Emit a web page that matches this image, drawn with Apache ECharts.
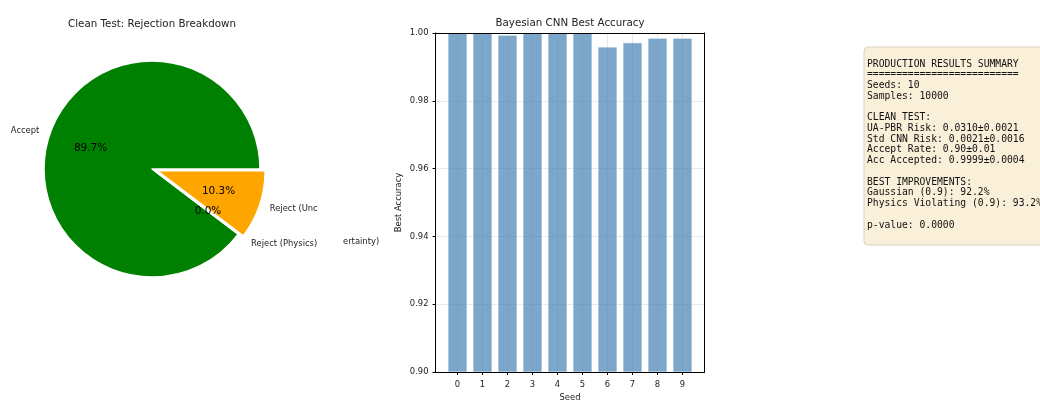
<!DOCTYPE html>
<html><head><meta charset="utf-8">
<script src="https://cdn.jsdelivr.net/npm/echarts@6/dist/echarts.min.js"></script>
<style>html,body{margin:0;padding:0;background:#fff}#c{width:1040px;height:403px}</style>
</head><body><div id="c"></div>
<script>
// ---- data ----
const pieLabels = ['Accept', 'Reject (Physics)', 'Reject (Uncertainty)'];
const pieValues = [89.7, 0.0, 10.3];
const pieColors = ['#008000', '#FF0000', '#FFA500'];
const pieExplode = [0, 0.05, 0.05];
const seeds = [0, 1, 2, 3, 4, 5, 6, 7, 8, 9];
const bestAccuracy = [1.0, 1.0, 0.9995, 1.0, 1.0, 1.0, 0.996, 0.99725, 0.9986, 0.9986];
const yTicks = [0.90, 0.92, 0.94, 0.96, 0.98, 1.00];
const summaryLines = [
  'PRODUCTION RESULTS SUMMARY',
  '==========================',
  'Seeds: 10',
  'Samples: 10000',
  '',
  'CLEAN TEST:',
  'UA-PBR Risk: 0.0310\u00b10.0021',
  'Std CNN Risk: 0.0021\u00b10.0016',
  'Accept Rate: 0.90\u00b10.01',
  'Acc Accepted: 0.9999\u00b10.0004',
  '',
  'BEST IMPROVEMENTS:',
  'Gaussian (0.9): 92.2%',
  'Physics Violating (0.9): 93.2%',
  '',
  'p-value: 0.0000'
];

// ---- layout ----
const FONT = 'DejaVu Sans';
const TXT = '#222';
const PIE_CX = 152, PIE_CY = 169, PIE_R = 108;
const X_MIN = -0.88, X_MAX = 9.88;

const chart = echarts.init(document.getElementById('c'), null, {renderer: 'canvas'});

// pie labels placed as matplotlib does (1.1 r for names, 0.6 r for percentages)
const total = pieValues.reduce((a, b) => a + b, 0);
const graphics = [];
let cum = 0;
pieValues.forEach((v, i) => {
  const a1 = cum / total * 2 * Math.PI; cum += v;
  const a2 = cum / total * 2 * Math.PI;
  const m = (a1 + a2) / 2, c = Math.cos(m), s = Math.sin(m);
  const ox = PIE_CX + pieExplode[i] * PIE_R * c, oy = PIE_CY - pieExplode[i] * PIE_R * s;
  let name = pieLabels[i];
  if (name === 'Reject (Uncertainty)') name = name.slice(0, 11);
  graphics.push({type: 'text', x: ox + 1.1 * PIE_R * c, y: oy - 1.1 * PIE_R * s, z: 10,
    style: {text: name, fill: TXT, font: '8.4px ' + FONT, textAlign: c > 0 ? 'left' : 'right', textVerticalAlign: 'middle'}});
  graphics.push({type: 'text', x: ox + 0.6 * PIE_R * c, y: oy - 0.6 * PIE_R * s, z: 10,
    style: {text: (v / total * 100).toFixed(1) + '%', fill: '#000', font: '10.5px ' + FONT, textAlign: 'center', textVerticalAlign: 'middle'}});
});
// the clipped remainder of the uncertainty label as it appears in the reference
graphics.push({type: 'text', x: 343, y: 242, z: 10,
  style: {text: pieLabels[2].slice(11), fill: TXT, font: '8.4px ' + FONT, textAlign: 'left', textVerticalAlign: 'middle'}});

// titles
graphics.push({type: 'text', x: PIE_CX, y: 24, z: 10,
  style: {text: 'Clean Test: Rejection Breakdown', fill: TXT, font: '10.3px ' + FONT, textAlign: 'center', textVerticalAlign: 'middle'}});
graphics.push({type: 'text', x: 570, y: 23, z: 10,
  style: {text: 'Bayesian CNN Best Accuracy', fill: TXT, font: '10.3px ' + FONT, textAlign: 'center', textVerticalAlign: 'middle'}});

// summary text box
graphics.push({type: 'rect', shape: {x: 864, y: 47, width: 200, height: 198, r: 4}, z: 1,
  style: {fill: '#FAEFD9', stroke: '#d9d2c4', lineWidth: 1}});
graphics.push({type: 'text', x: 867, y: 58.7, z: 2,
  style: {text: summaryLines.join('\n'), fill: '#111', font: '9.7px "DejaVu Sans Mono"', lineHeight: 10.73, textVerticalAlign: 'top'}});

const gridLine = {show: true, lineStyle: {color: '#e8e8e8', width: 1}};
const frameLine = {show: true, onZero: false, lineStyle: {color: '#000', width: 1}};

const option = {
  animation: false,
  backgroundColor: '#fff',
  grid: {left: 435.5, right: 335.5, top: 33, bottom: 31, containLabel: false, outerBoundsMode: 'none'},
  xAxis: [
    {type: 'value', position: 'bottom', min: X_MIN, max: X_MAX, z: 10,
      axisLine: frameLine,
      axisTick: {show: true, inside: false, length: 3, lineStyle: {color: '#000'}, customValues: seeds},
      axisLabel: {show: true, customValues: seeds, margin: 9, color: TXT, fontFamily: FONT, fontSize: 8.4},
      splitLine: {show: false},
      name: 'Seed', nameLocation: 'middle', nameGap: 21,
      nameTextStyle: {color: TXT, fontFamily: FONT, fontSize: 8.4}},
    {type: 'value', position: 'top', min: X_MIN, max: X_MAX, z: 10,
      axisLine: frameLine, axisTick: {show: false}, axisLabel: {show: false}, splitLine: {show: false}},
    {type: 'value', position: 'bottom', min: X_MIN, max: X_MAX, z: 0,
      axisLine: {show: false}, axisTick: {show: false, customValues: seeds}, axisLabel: {show: false, customValues: seeds},
      splitLine: gridLine}
  ],
  yAxis: [
    {type: 'value', position: 'left', min: 0.9, max: 1.0, interval: 0.02, z: 10,
      axisLine: frameLine,
      axisTick: {show: true, inside: false, length: 3, lineStyle: {color: '#000'}},
      axisLabel: {show: true, margin: 7, color: TXT, fontFamily: FONT, fontSize: 8.4,
        formatter: v => v.toFixed(2)},
      splitLine: {show: false},
      name: 'Best Accuracy', nameLocation: 'middle', nameGap: 33, nameRotate: 90,
      nameTextStyle: {color: TXT, fontFamily: FONT, fontSize: 8.4}},
    {type: 'value', position: 'right', min: 0.9, max: 1.0, interval: 0.02, z: 10,
      axisLine: frameLine, axisTick: {show: false}, axisLabel: {show: false}, splitLine: {show: false}},
    {type: 'value', position: 'left', min: 0.9, max: 1.0, interval: 0.02, z: 0,
      axisLine: {show: false}, axisTick: {show: false}, axisLabel: {show: false}, splitLine: gridLine}
  ],
  series: [
    {type: 'bar', xAxisIndex: 0, yAxisIndex: 0, barWidth: 20, clip: true, z: 2,
      data: seeds.map((s, i) => [s, bestAccuracy[i]]),
      itemStyle: {color: 'rgba(70,130,180,0.7)', borderColor: 'rgba(255,255,255,0.7)', borderWidth: 1},
      emphasis: {disabled: true}},
    {type: 'pie', center: [PIE_CX, PIE_CY], radius: PIE_R, startAngle: 0, clockwise: false,
      selectedMode: 'multiple', selectedOffset: 0.05 * PIE_R, minAngle: 0, avoidLabelOverlap: false,
      label: {show: false}, labelLine: {show: false}, emphasis: {disabled: true},
      itemStyle: {borderColor: '#fff', borderWidth: 1.5},
      data: pieLabels.map((n, i) => ({name: n, value: pieValues[i], selected: pieExplode[i] > 0,
        itemStyle: {color: pieColors[i]}}))}
  ],
  graphic: graphics
};
chart.setOption(option);
</script></body></html>
